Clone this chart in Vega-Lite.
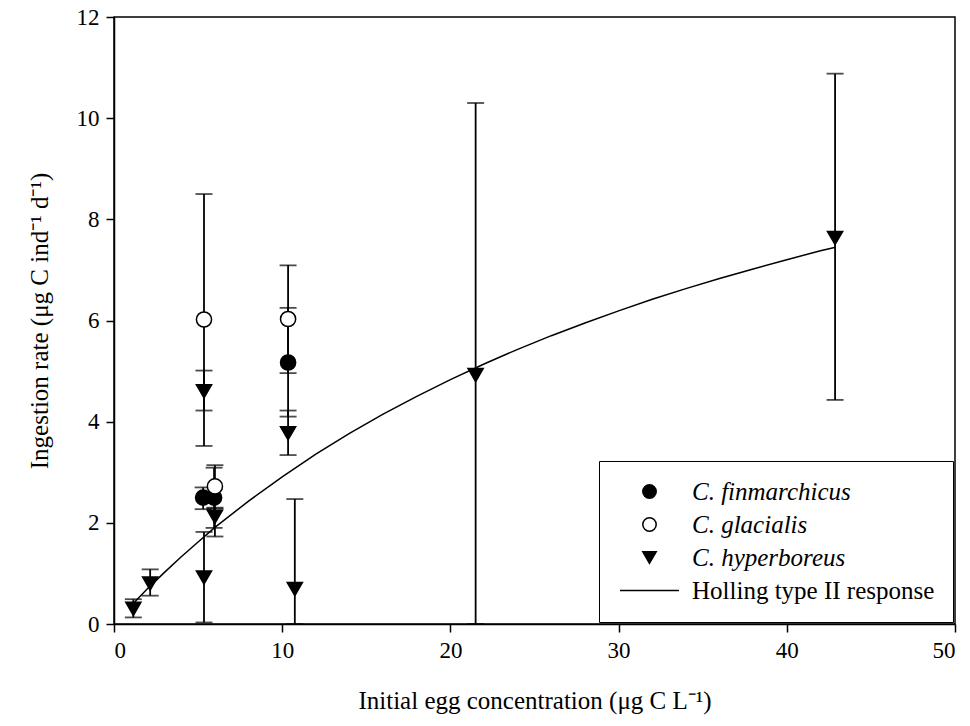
{
  "$schema": "https://vega.github.io/schema/vega-lite/v6.json",
  "autosize": "none",
  "width": 841,
  "height": 607,
  "padding": {"left": 114, "top": 17, "right": 15, "bottom": 102},
  "background": "white",
  "config": {
    "view": {"stroke": "black", "strokeWidth": 1.5},
    "font": "Liberation Serif",
    "axis": {
      "domainColor": "black", "domainWidth": 1.5, "tickColor": "black", "tickWidth": 1.5, "tickSize": 8,
      "labelFont": "Liberation Serif", "labelFontSize": 23, "labelColor": "black", "labelPadding": 7,
      "titleFont": "Liberation Serif", "titleFontSize": 25, "titleFontWeight": "normal", "titleColor": "black",
      "grid": false
    }
  },
  "datasets": {
    "pts": [
      {"series": "C. finmarchicus", "x": 5.3, "y": 2.5, "lo": 2.27, "hi": 2.7},
      {"series": "C. finmarchicus", "x": 5.95, "y": 2.5, "lo": 1.9, "hi": 3.09},
      {"series": "C. finmarchicus", "x": 10.35, "y": 5.17, "lo": 4.1, "hi": 6.25},
      {"series": "C. glacialis", "x": 5.35, "y": 6.02, "lo": 3.52, "hi": 8.5},
      {"series": "C. glacialis", "x": 6.0, "y": 2.72, "lo": 2.28, "hi": 3.14},
      {"series": "C. glacialis", "x": 10.35, "y": 6.03, "lo": 4.96, "hi": 7.09},
      {"series": "C. hyperboreus", "x": 1.15, "y": 0.3, "lo": 0.13, "hi": 0.49},
      {"series": "C. hyperboreus", "x": 2.15, "y": 0.8, "lo": 0.56, "hi": 1.08},
      {"series": "C. hyperboreus", "x": 5.35, "y": 4.6, "lo": 4.22, "hi": 5.01},
      {"series": "C. hyperboreus", "x": 5.35, "y": 0.92, "lo": 0.03, "hi": 1.82},
      {"series": "C. hyperboreus", "x": 6.0, "y": 2.12, "lo": 1.73, "hi": 2.3},
      {"series": "C. hyperboreus", "x": 10.35, "y": 3.77, "lo": 3.34, "hi": 4.22},
      {"series": "C. hyperboreus", "x": 10.75, "y": 0.69, "lo": 0.0, "hi": 2.47},
      {"series": "C. hyperboreus", "x": 21.5, "y": 4.92, "lo": 0.0, "hi": 10.3},
      {"series": "C. hyperboreus", "x": 42.87, "y": 7.63, "lo": 4.43, "hi": 10.88}
    ],
    "curve": [
      {"x": 1.1, "y": 0.39}, {"x": 2, "y": 0.7}, {"x": 3, "y": 1.02}, {"x": 4, "y": 1.33},
      {"x": 5, "y": 1.62}, {"x": 6, "y": 1.91}, {"x": 8, "y": 2.43}, {"x": 10, "y": 2.91},
      {"x": 12, "y": 3.36}, {"x": 14, "y": 3.77}, {"x": 16, "y": 4.15}, {"x": 18, "y": 4.5},
      {"x": 20, "y": 4.83}, {"x": 22, "y": 5.14}, {"x": 24, "y": 5.43}, {"x": 26, "y": 5.7},
      {"x": 28, "y": 5.95}, {"x": 30, "y": 6.19}, {"x": 32, "y": 6.42}, {"x": 34, "y": 6.63},
      {"x": 36, "y": 6.83}, {"x": 38, "y": 7.02}, {"x": 40, "y": 7.2}, {"x": 42, "y": 7.38},
      {"x": 42.9, "y": 7.45}
    ]
  },
  "layer": [
    {
      "data": {"name": "pts"},
      "mark": {"type": "rule", "color": "black", "strokeWidth": 1.8},
      "encoding": {
        "x": {"field": "x", "type": "quantitative", "scale": {"domain": [0, 50], "nice": false, "zero": false},
              "axis": {"values": [0, 10, 20, 30, 40, 50], "title": "Initial egg concentration (μg C L⁻¹)", "titlePadding": 26}},
        "y": {"field": "lo", "type": "quantitative", "scale": {"domain": [0, 12], "nice": false},
              "axis": {"values": [0, 2, 4, 6, 8, 10, 12], "title": "Ingestion rate (μg C ind⁻¹ d⁻¹)", "titlePadding": 24}},
        "y2": {"field": "hi"}
      }
    },
    {
      "data": {"name": "pts"},
      "mark": {"type": "tick", "orient": "horizontal", "color": "black", "size": 17, "thickness": 1.8},
      "encoding": {
        "x": {"field": "x", "type": "quantitative"},
        "y": {"field": "lo", "type": "quantitative"}
      }
    },
    {
      "data": {"name": "pts"},
      "mark": {"type": "tick", "orient": "horizontal", "color": "black", "size": 17, "thickness": 1.8},
      "encoding": {
        "x": {"field": "x", "type": "quantitative"},
        "y": {"field": "hi", "type": "quantitative"}
      }
    },
    {
      "data": {"name": "curve"},
      "mark": {"type": "line", "color": "black", "strokeWidth": 1.5},
      "encoding": {
        "x": {"field": "x", "type": "quantitative"},
        "y": {"field": "y", "type": "quantitative"}
      }
    },
    {
      "data": {"name": "pts"},
      "mark": {"type": "point", "filled": false, "color": "black", "stroke": "black", "strokeWidth": 1.5, "opacity": 1, "size": 230},
      "encoding": {
        "x": {"field": "x", "type": "quantitative"},
        "y": {"field": "y", "type": "quantitative"},
        "fill": {
          "field": "series", "type": "nominal",
          "scale": {"domain": ["C. finmarchicus", "C. glacialis", "C. hyperboreus", "Holling type II response"],
                    "range": ["black", "white", "black", "transparent"]},
          "legend": {
            "title": null,
            "orient": "bottom-right", "offset": 2,
            "strokeColor": "black", "fillColor": "white", "padding": 18,
            "labelFont": "Liberation Serif", "labelFontSize": 25, "labelColor": "black", "labelLimit": 400,
            "labelFontStyle": {"expr": "datum.value === 'Holling type II response' ? 'normal' : 'italic'"},
            "labelOffset": 30, "symbolOffset": 20, "rowPadding": 7, "symbolSize": 180,
            "symbolStrokeWidth": 1.5
          }
        },
        "shape": {
          "field": "series", "type": "nominal",
          "scale": {"domain": ["C. finmarchicus", "C. glacialis", "C. hyperboreus", "Holling type II response"],
                    "range": ["circle", "circle", "triangle-down", "M-4.4,0L4.4,0"]},
          "legend": {
            "title": null,
            "orient": "bottom-right", "offset": 2,
            "strokeColor": "black", "fillColor": "white", "padding": 18,
            "labelFont": "Liberation Serif", "labelFontSize": 25, "labelColor": "black", "labelLimit": 400,
            "labelFontStyle": {"expr": "datum.value === 'Holling type II response' ? 'normal' : 'italic'"},
            "labelOffset": 30, "symbolOffset": 20, "rowPadding": 7, "symbolSize": 180,
            "symbolStrokeWidth": 1.5
          }
        }
      }
    }
  ]
}
